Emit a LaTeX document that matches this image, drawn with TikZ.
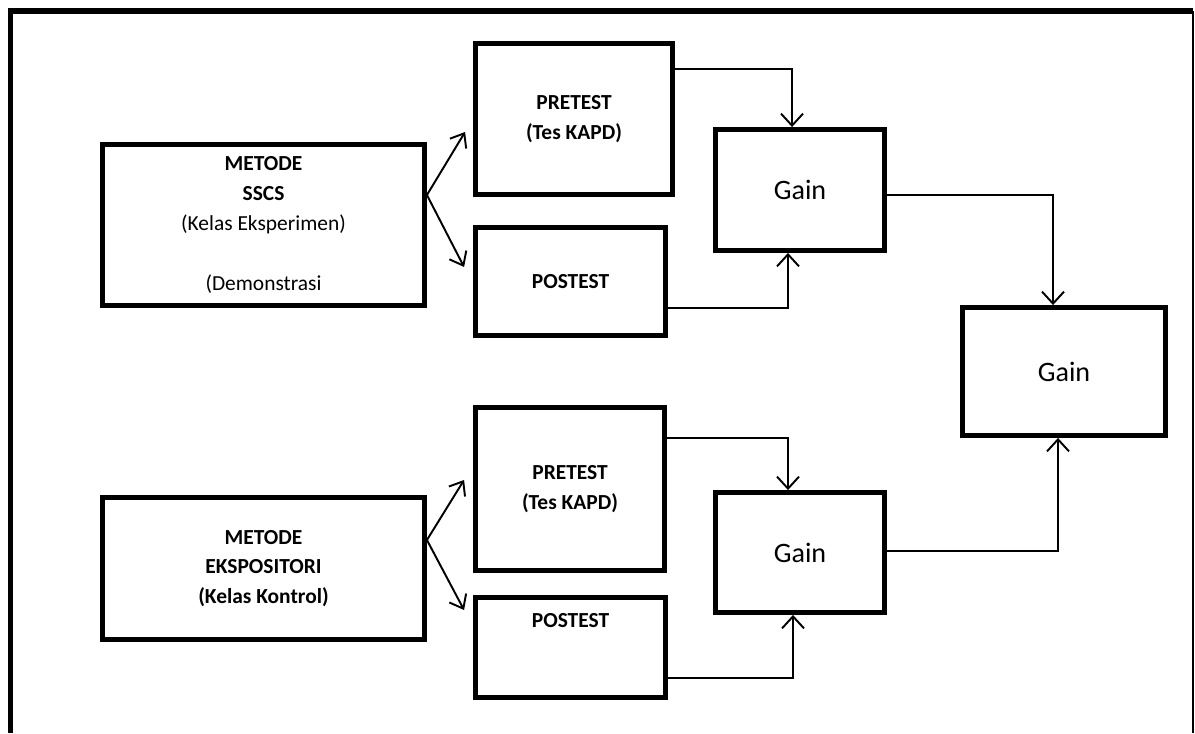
\documentclass[tikz,border=0pt]{standalone}
\usepackage{fontspec}
\setmainfont{Carlito}
\usetikzlibrary{arrows.meta,calc}
\tikzset{
  box/.style={draw=black,line width=2.8pt,align=center,inner sep=0pt,
    font=\fontsize{12.2}{17}\selectfont\bfseries},
  gainbox/.style={draw=black,line width=2.8pt,align=center,inner sep=0pt,
    font=\fontsize{16}{19}\selectfont},
  boxtext/.style={anchor=center,inner sep=0pt,font=\fontsize{12.2}{17}\selectfont\bfseries},
  link/.style={-{Straight Barb[length=2.4mm,width=4.4mm,line width=1.1pt]},draw=black,line width=0.85pt},
  fan/.style={-{Straight Barb[length=2.4mm,width=3.8mm]},draw=black,line width=1.1pt},
  frame/.style={draw=black,line width=3pt}
}
\begin{document}
\begin{tikzpicture}[x=0.02cm,y=-0.02cm]
  \useasboundingbox (0,0) rectangle (1195,733);
  % outer frame, open at the bottom
  \draw[frame] (10.5,733) -- (10.5,11) -- (1193,11);
  \draw[black,line width=1.1pt] (1193,11) -- (1193,733);

  % experiment class
  \node[box,minimum width=6.44cm,minimum height=3.22cm] (ma) at (263.5,225)
    {METODE\\SSCS\\{\mdseries (Kelas Eksperimen)}\\[17pt]{\mdseries (Demonstrasi}};
  \node[box,minimum width=3.94cm,minimum height=3.02cm] (pre1) at (574,119) {PRETEST\\(Tes KAPD)};
  \node[box,minimum width=3.80cm,minimum height=2.16cm] (post1) at (570.5,281.5) {POSTEST};
  \node[gainbox,minimum width=3.38cm,minimum height=2.42cm] (g1) at (800,190) {Gain};

  % control class
  \node[box,minimum width=6.44cm,minimum height=2.84cm] (mb) at (263.5,568.5)
    {METODE\\EKSPOSITORI\\(Kelas Kontrol)};
  \node[box,minimum width=3.78cm,minimum height=3.26cm] (pre2) at (570,489) {PRETEST\\(Tes KAPD)};
  \node[box,minimum width=3.80cm,minimum height=2.00cm,
    label={[boxtext,yshift=-0.51cm]north:POSTEST}] (post2) at (570.5,647.5) {};
  \node[gainbox,minimum width=3.38cm,minimum height=2.40cm] (g2) at (800,552.5) {Gain};

  % final gain
  \node[gainbox,minimum width=4.06cm,minimum height=2.56cm] (gf) at (1064,371.5) {Gain};

  % fan out
  \draw[fan] ($(ma.east)+(0,-30)$) -- ($(pre1.west)+(-8,13)$);
  \draw[fan] ($(ma.east)+(0,-30)$) -- ($(post1.west)+(-9,-14.5)$);
  \draw[fan] ($(mb.east)+(0,-28.5)$) -- ($(pre2.west)+(-9,-9)$);
  \draw[fan] ($(mb.east)+(0,-28.5)$) -- ($(post2.west)+(-9,-37.5)$);

  % into the gains
  \draw[link] ($(pre1.east)+(0,-50)$) -| ($(g1.north)+(-8,0)$);
  \draw[link] ($(post1.east)+(0,26.5)$) -| ($(g1.south)+(-12,0)$);
  \draw[link] ($(pre2.east)+(0,-51)$) -| ($(g2.north)+(-12,0)$);
  \draw[link] ($(post2.east)+(0,30.5)$) -| ($(g2.south)+(-7,0)$);
  \draw[link] ($(g1.east)+(0,5)$) -| ($(gf.north)+(-11,0)$);
  \draw[link] ($(g2.east)+(0,-1.5)$) -| ($(gf.south)+(-6,0)$);
\end{tikzpicture}
\end{document}
